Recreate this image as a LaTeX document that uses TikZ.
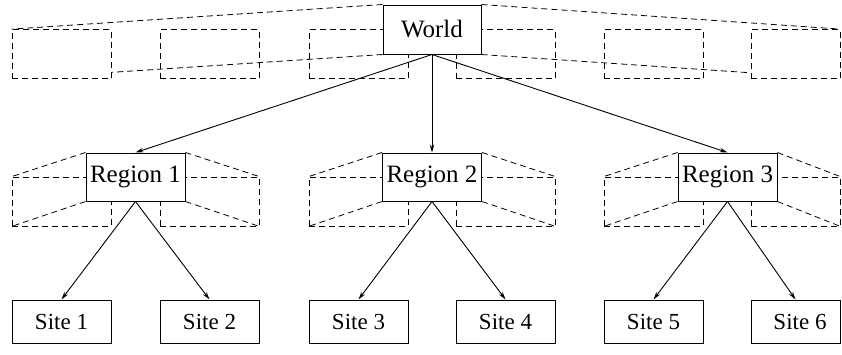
\documentclass[tikz,border=0pt]{standalone}
\usepackage{fontspec}
\setmainfont{Liberation Serif}
\usetikzlibrary{arrows.meta}
\begin{document}
\begin{tikzpicture}[x=1pt,y=-1pt,
 solidbox/.style={draw, line width=1pt, fill=white, inner sep=0pt, font=\fontsize{25}{29}\selectfont},
 topbox/.style={solidbox, minimum width=98pt, minimum height=49pt},
 regbox/.style={solidbox, minimum width=99pt, minimum height=48pt},
 sitebox/.style={solidbox, minimum width=99pt, minimum height=43pt, font=\fontsize{23}{27}\selectfont},
 ghost/.style={draw, line width=0.8pt, dash pattern=on 6pt off 4pt, inner sep=0pt, minimum width=99pt, minimum height=49pt},
 persp/.style={line width=0.8pt, dash pattern=on 6pt off 4pt},
 link/.style={line width=0.9pt, -{Stealth[length=8pt,width=4.5pt]}}
]
\useasboundingbox (0,0) rectangle (842,354);

% ---- top row ghost boxes
\node[ghost] (t1) at (61.5,54) {};
\node[ghost] (t2) at (209.5,54) {};
\node[ghost] (t3) at (358.5,54) {};
\node[ghost] (t4) at (505.5,54) {};
\node[ghost] (t5) at (653.5,54) {};
\node[ghost, minimum width=89pt] (t6) at (795.5,54) {};

% ---- region row ghost boxes
\node[ghost] (a1) at (61.5,201.5) {};
\node[ghost] (a2) at (209.5,201.5) {};
\node[ghost] (b1) at (358.5,201.5) {};
\node[ghost] (b2) at (505.5,201.5) {};
\node[ghost] (c1) at (653.5,201.5) {};
\node[ghost, minimum width=89pt] (c2) at (795.5,201.5) {};

% ---- main boxes
\node[topbox] (w) at (432,29.5) {World};
\node[regbox] (r1) at (135.5,177) {Region 1};
\node[regbox] (r2) at (432,177) {Region 2};
\node[regbox] (r3) at (727.5,177) {Region 3};

% ---- perspective lines for World
\coordinate (wl) at (intersection of w.south west--t1.south west and t1.north east--t1.south east);
\coordinate (wr) at (intersection of w.south east--t6.south east and t6.north west--t6.south west);
\draw[persp] (w.north west) -- (t1.north west);
\draw[persp] (w.north east) -- (t6.north east);
\draw[persp] (w.south west) -- (wl);
\draw[persp] (w.south east) -- (wr);

% ---- perspective lines for regions
\draw[persp] (r1.north west) -- (a1.north west);
\draw[persp] (r1.south west) -- (a1.south west);
\draw[persp] (r1.north east) -- (a2.north east);
\draw[persp] (r1.south east) -- (a2.south east);
\draw[persp] (r2.north west) -- (b1.north west);
\draw[persp] (r2.south west) -- (b1.south west);
\draw[persp] (r2.north east) -- (b2.north east);
\draw[persp] (r2.south east) -- (b2.south east);
\draw[persp] (r3.north west) -- (c1.north west);
\draw[persp] (r3.south west) -- (c1.south west);
\draw[persp] (r3.north east) -- (c2.north east);
\draw[persp] (r3.south east) -- (c2.south east);

% redraw main boxes on top
\node[topbox] at (w) {World};
\node[regbox] at (r1) {Region 1};
\node[regbox] at (r2) {Region 2};
\node[regbox] at (r3) {Region 3};

% ---- sites
\node[sitebox] (s1) at (61.5,321.5) {Site 1};
\node[sitebox] (s2) at (209.5,321.5) {Site 2};
\node[sitebox] (s3) at (358.5,321.5) {Site 3};
\node[sitebox] (s4) at (505.5,321.5) {Site 4};
\node[sitebox] (s5) at (653.5,321.5) {Site 5};
\node[sitebox, minimum width=89pt] (s6) at (795.5,321.5) {\hspace*{9pt}Site 6};

% ---- arrows
\draw[link] (w.south) -- (r1.north);
\draw[link] (w.south) -- (r2.north);
\draw[link] (w.south) -- (r3.north);
\draw[link] (r1.south) -- (s1.north);
\draw[link] (r1.south) -- (s2.north);
\draw[link] (r2.south) -- (s3.north);
\draw[link] (r2.south) -- (s4.north);
\draw[link] (r3.south) -- (s5.north);
\draw[link] (r3.south) -- (s6.north);
\end{tikzpicture}
\end{document}
